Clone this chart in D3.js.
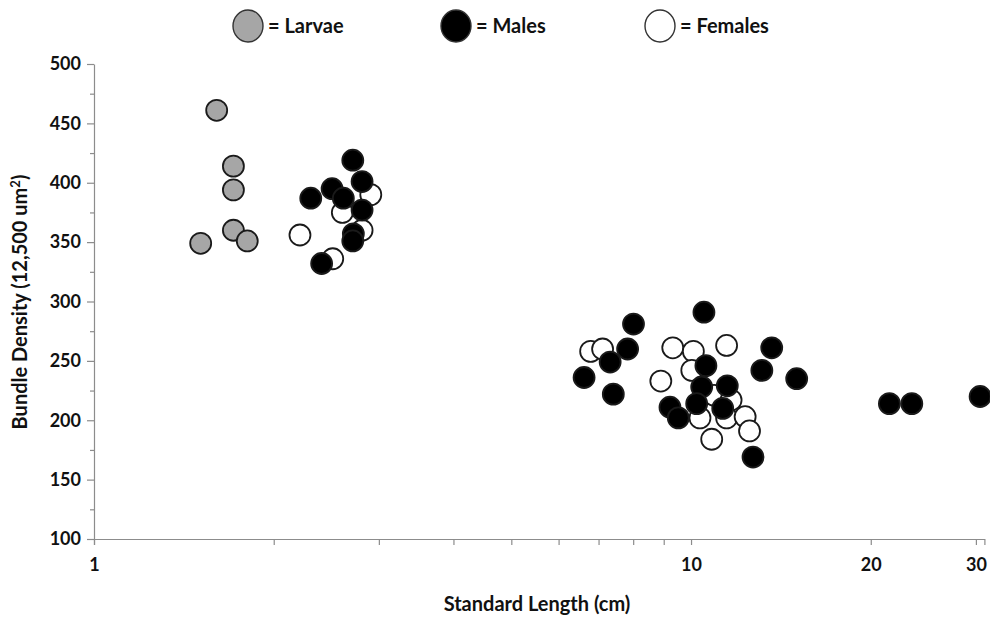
<!DOCTYPE html>
<html>
<head>
<meta charset="utf-8">
<script src="https://cdn.jsdelivr.net/npm/d3@7"></script>
<style>
  body { margin: 0; background: #fff; }
  svg text { font-family: Lato, "Open Sans", "DejaVu Sans", sans-serif; font-weight: bold; fill: #111; }
</style>
</head>
<body>
<div id="chart"></div>
<script>
// standard length (cm) / bundle density
var larvaeX = [1.605, 1.712, 1.712, 1.712, 1.806, 1.509];
var larvaeY = [461, 414, 394, 360, 351, 349];

var femalesX = [2.908, 2.606, 2.812, 2.213, 2.511,
  6.79, 7.11, 9.32, 8.90, 10.09, 11.47, 10.03, 10.93, 11.67, 10.35, 10.83, 11.47, 12.32, 12.53];
var femalesY = [390, 375, 360, 356, 336,
  258, 260, 261, 233, 258, 263, 242, 221, 217, 202, 184, 202, 203, 191];

var malesX = [2.713, 2.505, 2.812, 2.616, 2.307, 2.812, 2.719, 2.713, 2.406,
  6.62, 7.32, 7.41, 7.83, 8.01, 9.22, 9.52, 10.51, 10.59, 10.42, 11.50, 10.22, 11.30,
  12.70, 13.14, 13.65, 15.03, 21.49, 23.43, 30.49];
var malesY = [419, 395, 401, 387, 387, 377, 357, 351, 332,
  236, 249, 222, 260, 281, 211, 202, 291, 246, 228, 229, 214, 210,
  169, 242, 261, 235, 214, 214, 220];

var xTickLabels = [1, 10, 20, 30];
var yTickLabels = [100, 150, 200, 250, 300, 350, 400, 450, 500];

var width = 990, height = 618;

var svg = d3.select("#chart").append("svg")
  .attr("width", width)
  .attr("height", height);

var x = d3.scaleLog().domain([1, 31]).range([94, 984.4]);
var y = d3.scaleLinear().domain([100, 500]).range([539, 64]);

var axisColor = "#8c8c8c";

// y axis: minor ticks every 25, labels every 50
svg.append("g")
  .attr("transform", "translate(" + x(1) + ",0)")
  .call(d3.axisLeft(y).tickValues(d3.range(125, 500, 50)).tickSize(4).tickSizeOuter(0).tickFormat(""))
  .call(function(g) { g.select(".domain").remove(); });
var yAxis = svg.append("g")
  .attr("transform", "translate(" + x(1) + ",0)")
  .call(d3.axisLeft(y).tickValues(yTickLabels).tickSize(7).tickSizeOuter(0).tickPadding(6));
yAxis.selectAll("text").style("font-size", "18px");

// x axis: ticks at 1..10, 20, 30; labels only at 1, 10, 20, 30
var xTicks = d3.range(1, 11).concat([20, 30]);
var xAxis = svg.append("g")
  .attr("transform", "translate(0," + y(100) + ")")
  .call(d3.axisBottom(x).tickValues(xTicks).tickSize(6).tickSizeOuter(6).tickPadding(13)
    .tickFormat(function(d) { return xTickLabels.indexOf(d) >= 0 ? d : ""; }));
xAxis.selectAll("text").style("font-size", "18px");

svg.selectAll(".domain, .tick line").attr("stroke", axisColor).attr("stroke-width", 1.2);
svg.selectAll(".tick text").attr("fill", "#111");

// axis titles
svg.append("text")
  .attr("x", 537).attr("y", 611)
  .attr("text-anchor", "middle")
  .style("font-size", "20px")
  .text("Standard Length (cm)");

var yt = svg.append("text")
  .attr("transform", "translate(27,302) rotate(-90)")
  .attr("text-anchor", "middle")
  .style("font-size", "20px");
yt.append("tspan").text("Bundle Density (12,500 um");
yt.append("tspan").attr("dy", -7).style("font-size", "13px").text("2");
yt.append("tspan").attr("dy", 7).text(")");

// points: larvae, females, then males on top
var series = [
  {name: "Larvae", xs: larvaeX, ys: larvaeY, fill: "#a6a6a6"},
  {name: "Females", xs: femalesX, ys: femalesY, fill: "#ffffff"},
  {name: "Males", xs: malesX, ys: malesY, fill: "#000000"}
];

series.forEach(function(s) {
  svg.append("g").selectAll("circle")
    .data(s.xs.map(function(v, i) { return [v, s.ys[i]]; }))
    .enter()
    .append("circle")
    .attr("cx", function(d) { return x(d[0]); })
    .attr("cy", function(d) { return y(d[1]); })
    .attr("r", 10.5)
    .attr("fill", s.fill)
    .attr("stroke", "#1a1a1a")
    .attr("stroke-width", 1.8);
});

// legend
var legend = [
  {label: "= Larvae", fill: "#a6a6a6", cx: 248},
  {label: "= Males", fill: "#000000", cx: 456},
  {label: "= Females", fill: "#ffffff", cx: 660}
];
var lg = svg.append("g").selectAll("g")
  .data(legend)
  .enter()
  .append("g");
lg.append("ellipse")
  .attr("cx", function(d) { return d.cx; })
  .attr("cy", 26)
  .attr("rx", 15)
  .attr("ry", 16)
  .attr("fill", function(d) { return d.fill; })
  .attr("stroke", "#333")
  .attr("stroke-width", 1.4);
lg.append("text")
  .attr("x", function(d) { return d.cx + 20; })
  .attr("y", 33)
  .style("font-size", "20px")
  .text(function(d) { return d.label; });
</script>
</body>
</html>
